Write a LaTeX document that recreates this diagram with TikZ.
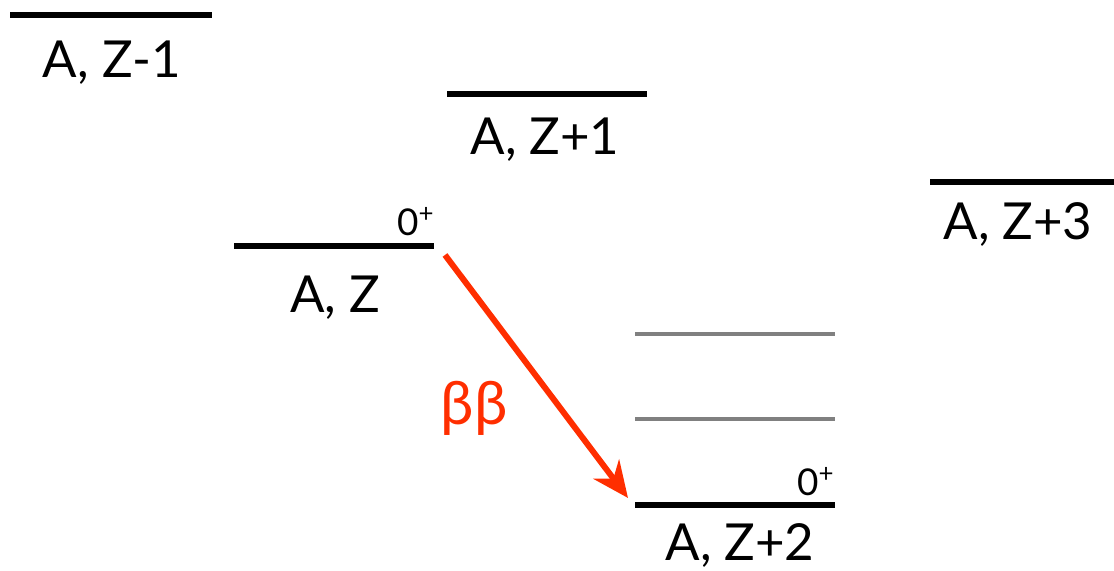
\documentclass[tikz,border=0pt]{standalone}
\usepackage{fontspec}
\setmainfont{Lato}
\usetikzlibrary{arrows.meta}
\usetikzlibrary{positioning}
\definecolor{fg}{rgb}{0,0,0}
\definecolor{bbred}{rgb}{1,0.18,0}
\definecolor{exgrey}{rgb}{0.5,0.5,0.5}
\tikzstyle{level}=[draw=fg, line width=1.5pt]
\tikzstyle{excited}=[draw=exgrey, line width=0.9pt]
\tikzstyle{lab}=[anchor=base, inner sep=0pt, text=fg, font=\fontsize{14.5}{16}\selectfont]
\tikzstyle{spin}=[anchor=base east, inner sep=0pt, text=fg, font=\fontsize{10.5}{12}\selectfont]
\tikzstyle{bbarrow}=[-{Stealth[length=3.6mm,width=3.2mm]}, draw=bbred, line width=1.7pt]

\begin{document}
\begin{tikzpicture}[x=0.01cm, y=-0.01cm]
    \useasboundingbox (0,0) rectangle (1114,571);

    % levels
    \coordinate (Zm1l) at (10,15) ;
    \coordinate (Zm1r) at (212,15) ;
    \coordinate (Zp1l) at (447,94) ;
    \coordinate (Zp1r) at (647,94) ;
    \coordinate (Zl) at (234,246) ;
    \coordinate (Zr) at (434,246) ;
    \coordinate (Zp3l) at (930,182) ;
    \coordinate (Zp3r) at (1114,182) ;
    \coordinate (Zp2l) at (635,505) ;
    \coordinate (Zp2r) at (835,505) ;
    \coordinate (Exal) at (635,334) ;
    \coordinate (Exar) at (835,334) ;
    \coordinate (Exbl) at (635,419) ;
    \coordinate (Exbr) at (835,419) ;

    \draw[level] (Zm1l) -- (Zm1r) ;
    \draw[level] (Zp1l) -- (Zp1r) ;
    \draw[level] (Zl) -- (Zr) ;
    \draw[level] (Zp3l) -- (Zp3r) ;
    \draw[level] (Zp2l) -- (Zp2r) ;
    \draw[excited] (Exal) -- (Exar) ;
    \draw[excited] (Exbl) -- (Exbr) ;

    % names
    \node[lab] (AZm1) at (112,78) {A, Z-1} ;
    \node[lab] (AZp1) at (545,155) {A, Z+1} ;
    \node[lab] (AZ) at (335,313) {A, Z} ;
    \node[lab] (AZp3) at (1018,240) {A, Z+3} ;
    \node[lab] (AZp2) at (740,561) {A, Z+2} ;

    \node[spin] (JZ) at (436,236) {0\textsuperscript{+}} ;
    \node[spin] (JZp2) at (836,496) {0\textsuperscript{+}} ;

    % double beta
    \coordinate (bbstart) at (445,255) ;
    \coordinate (bbend) at (628,498) ;
    \draw[bbarrow] (bbstart) -- (bbend) ;
    \node[text=bbred, inner sep=0pt, font=\fontsize{17}{19}\selectfont]
        (bb) at (474,408) {ββ} ;
\end{tikzpicture}
\end{document}
